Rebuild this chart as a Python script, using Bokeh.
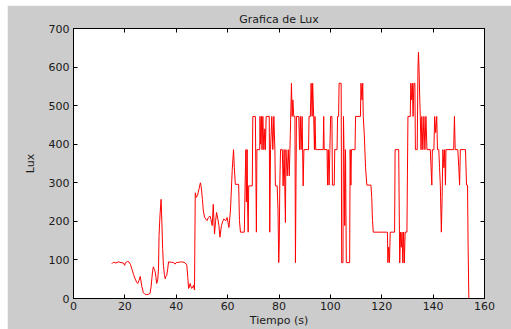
from bokeh.plotting import figure
from bokeh.models import Range1d, LinearAxis, FixedTicker
from bokeh.embed import file_html
from bokeh.resources import INLINE

time_s = [14.9, 15.5, 16.5, 17.5, 18.5, 19.5, 19.9, 20.3, 21.0, 21.6, 22.2, 22.7, 23.4, 24.0, 24.6,
          25.0, 25.5, 26.0, 26.6, 27.2, 27.8, 28.5, 29.2, 29.8, 30.2, 30.5, 30.8, 31.1, 31.5, 31.8,
          32.1, 32.4, 32.8, 33.1, 33.3, 33.7, 34.1, 34.4, 34.7, 35.0, 35.4, 35.7, 36.0, 36.3, 36.7,
          37.0, 38.0, 39.0, 39.5, 40.0, 41.0, 42.0, 43.0, 43.5, 44.1, 44.5, 44.8, 45.1, 45.4, 45.7,
          46.0, 46.4, 46.7, 47.1, 47.4, 47.8, 48.3, 48.9, 49.4, 49.7, 50.2, 50.5, 51.0, 51.5, 52.0,
          52.5, 53.1, 53.5, 54.0, 54.4, 54.9, 55.3, 55.7, 56.2, 56.6, 57.0, 57.6, 58.1, 58.5, 59.3,
          59.8, 60.5, 61.1, 61.8, 62.3, 62.6, 63.0, 64.3, 64.6, 65.0, 66.5, 66.8, 67.1, 67.3, 67.6,
          67.8, 68.0, 68.2, 69.6, 69.8, 70.8, 71.0, 71.2, 71.4, 72.5, 72.6, 72.9, 73.2, 73.4, 73.7,
          74.1, 74.5, 74.7, 75.0, 76.2, 76.4, 76.7, 77.2, 77.6, 78.0, 78.4, 78.6, 79.3, 79.6, 79.9,
          80.1, 80.3, 80.6, 81.3, 81.6, 82.0, 82.5, 82.7, 83.2, 83.6, 84.0, 84.4, 84.85, 85.1, 85.4,
          85.75, 86.2, 86.4, 86.8, 87.7, 88.0, 88.3, 88.6, 89.0, 89.4, 89.7, 91.5, 91.7, 92.2, 92.5,
          92.9, 93.1, 93.5, 93.8, 94.0, 94.3, 97.2, 97.4, 97.6, 98.7, 98.9, 99.2, 99.5, 99.8, 100.1,
          100.6, 100.8, 101.5, 101.7, 102.6, 102.8, 103.2, 103.4, 104.2, 104.4, 104.9, 105.1, 105.3, 105.6, 105.9,
          106.2, 107.5, 107.7, 108.0, 108.2, 109.6, 109.8, 111.7, 111.9, 112.3, 112.6, 112.8, 113.2, 113.7, 114.2,
          115.8, 116.1, 116.4, 116.7, 122.2, 122.4, 122.7, 123.0, 123.3, 125.0, 125.2, 126.6, 126.8, 127.0, 127.3,
          127.6, 127.9, 128.2, 128.5, 128.8, 129.1, 129.8, 130.0, 130.2, 131.1, 131.3, 131.6, 131.9, 132.2, 132.5,
          132.9, 133.1, 133.8, 134.1, 134.3, 134.5, 134.8, 135.0, 135.3, 135.6, 136.0, 136.4, 136.8, 137.2, 137.6,
          138.9, 139.2, 139.5, 139.7, 140.3, 140.6, 141.0, 141.4, 141.7, 142.2, 142.5, 142.8, 143.0, 143.2, 143.5,
          143.8, 144.2, 144.5, 144.8, 145.0, 148.0, 148.3, 148.6, 149.6, 150.0, 150.3, 150.6, 152.6, 153.0, 153.4,
          153.6, 153.9]

lux = [90, 94, 92, 95, 93, 92, 86, 93, 96, 95, 88, 77, 62, 51, 42,
       39, 47, 57, 31, 15, 11, 10, 11, 13, 30, 51, 72, 82, 75, 69,
       55, 39, 50, 77, 163, 219, 257, 198, 130, 86, 62, 51, 58, 60, 78,
       95, 94, 93, 89, 93, 94, 95, 94, 92, 87, 55, 26, 30, 39, 32,
       26, 30, 34, 22, 274, 262, 268, 285, 300, 290, 257, 230, 211, 206, 202,
       210, 214, 205, 189, 244, 167, 200, 223, 206, 190, 159, 189, 200, 206, 202,
       210, 184, 227, 334, 386, 340, 296, 296, 202, 172, 172, 294, 386, 250, 386,
       232, 172, 292, 292, 472, 472, 322, 172, 386, 386, 472, 400, 472, 386, 472,
       386, 440, 386, 472, 472, 172, 386, 472, 386, 472, 386, 292, 292, 232, 93,
       142, 292, 386, 386, 292, 386, 197, 386, 318, 386, 318, 425, 558, 472, 515,
       472, 472, 93, 472, 472, 386, 472, 386, 472, 292, 386, 386, 472, 472, 558,
       472, 558, 472, 386, 472, 386, 386, 472, 386, 386, 294, 386, 294, 386, 472,
       472, 294, 294, 386, 386, 472, 472, 558, 558, 93, 93, 472, 386, 189, 386,
       93, 93, 386, 294, 386, 386, 472, 472, 558, 515, 558, 472, 425, 339, 294,
       294, 262, 202, 172, 172, 93, 133, 93, 172, 172, 386, 386, 232, 92, 172,
       133, 172, 92, 172, 92, 172, 172, 325, 472, 472, 558, 515, 558, 472, 558,
       558, 386, 386, 600, 639, 600, 515, 472, 386, 472, 386, 472, 386, 472, 386,
       386, 339, 294, 386, 386, 472, 430, 472, 386, 386, 339, 294, 232, 172, 262,
       386, 339, 386, 294, 386, 386, 472, 386, 386, 339, 294, 386, 386, 294, 294,
       146, 0]

x_ticks = [0, 20, 40, 60, 80, 100, 120, 140, 160]
y_ticks = [0, 100, 200, 300, 400, 500, 600, 700]

FONT = "DejaVu Sans"
FS = "11px"
TXT = "#1a1a1a"

p = figure(width=504, height=324, output_backend="svg", toolbar_location=None,
           x_range=Range1d(0, 160), y_range=Range1d(0, 700),
           min_border_left=66, min_border_right=27, min_border_top=23, min_border_bottom=29,
           x_axis_label="Tiempo (s)", y_axis_label="Lux")
p.margin = (5, 0, 0, 7)
p.border_fill_color = "#cccccc"
p.background_fill_color = "white"
p.outline_line_color = "black"
p.outline_line_width = 1
p.grid.visible = False

p.title.text = "Grafica de Lux"
p.title.align = "center"
p.title.text_font = FONT
p.title.text_font_size = FS
p.title.text_font_style = "normal"
p.title.text_color = TXT
p.title.standoff = 5

p.xaxis.ticker = FixedTicker(ticks=x_ticks)
p.yaxis.ticker = FixedTicker(ticks=y_ticks)
for ax in [p.xaxis[0], p.yaxis[0]]:
    ax.major_tick_in = 4
    ax.major_tick_out = 0
    ax.minor_tick_in = 0
    ax.minor_tick_out = 0
    ax.axis_line_color = "black"
    ax.major_tick_line_color = "black"
    ax.major_label_text_font = FONT
    ax.major_label_text_font_size = FS
    ax.major_label_text_color = TXT
    ax.axis_label_text_font = FONT
    ax.axis_label_text_font_size = FS
    ax.axis_label_text_font_style = "normal"
    ax.axis_label_text_color = TXT
p.xaxis.major_label_standoff = 3
p.xaxis.axis_label_standoff = 1
p.yaxis.major_label_standoff = 4
p.yaxis.axis_label_standoff = 9

top = LinearAxis(ticker=FixedTicker(ticks=x_ticks), major_label_text_font_size="1px",
                 major_label_text_color=None,
                 major_tick_in=4, major_tick_out=0, minor_tick_in=0, minor_tick_out=0,
                 major_label_standoff=0, axis_line_color="black")
right = LinearAxis(ticker=FixedTicker(ticks=y_ticks), major_label_text_font_size="1px",
                   major_label_text_color=None,
                   major_tick_in=4, major_tick_out=0, minor_tick_in=0, minor_tick_out=0,
                   major_label_standoff=0, axis_line_color="black")
p.add_layout(top, "above")
p.add_layout(right, "right")

p.line(time_s, lux, line_color="red", line_width=1)

open("out.html", "w").write(file_html(p, INLINE))
